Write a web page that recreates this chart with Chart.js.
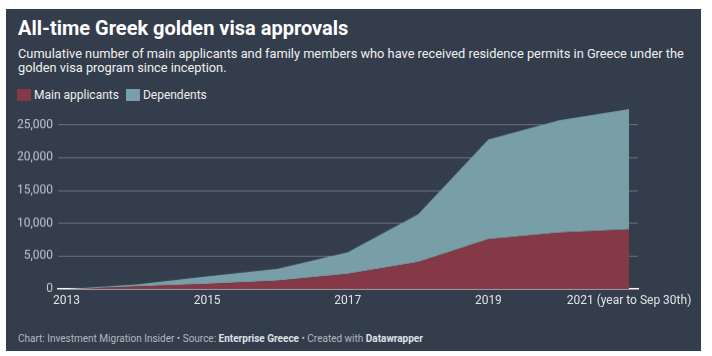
<!DOCTYPE html>
<html>
<head>
<meta charset="utf-8">
<script src="https://cdn.jsdelivr.net/npm/chart.js@4"></script>
<style>
  html, body { margin:0; padding:0; background:#ffffff; width:712px; height:356px; overflow:hidden; }
  #panel { position:absolute; left:6px; top:9px; width:695px; height:342px; background:#343d4c; font-family:Roboto, "Noto Sans", sans-serif; }
  #title { position:absolute; left:12px; top:7px; color:#ffffff; font-size:20px; font-weight:700; line-height:24px; white-space:nowrap; }
  #sub { position:absolute; left:12px; top:38px; width:680px; color:#f0f0f0; font-size:12.8px; line-height:13.5px; }
  #legend { position:absolute; left:11px; top:79px; color:#eeeeee; font-size:12px; line-height:14px; white-space:nowrap; }
  .sw { display:inline-block; width:14px; height:12px; vertical-align:-2px; margin-right:3px; }
  .li { display:inline-block; margin-right:4px; }
  #foot { position:absolute; left:12px; top:324px; color:#b3b8c0; font-size:10px; line-height:12px; white-space:nowrap; }
  #foot b { color:#dfe2e6; font-weight:700; }
  #wrap { position:absolute; left:0px; top:84.2px; width:695px; height:221.8px; }
</style>
</head>
<body>
<div id="panel">
  <div id="title">All-time Greek golden visa approvals</div>
  <div id="sub">Cumulative number of main applicants and family members who have received residence permits in Greece under the golden visa program since inception.</div>
  <div id="legend"><span class="li"><span class="sw" style="background:#853947"></span>Main applicants</span> <span class="li"><span class="sw" style="background:#789fa7"></span>Dependents</span></div>
  <div id="wrap"><canvas id="c"></canvas></div>
  <div id="foot">Chart: Investment Migration Insider • Source: <b>Enterprise Greece</b> • Created with <b>Datawrapper</b></div>
</div>
<script>
// ---- data ----
const years = [2013, 2014, 2015, 2016, 2017, 2018, 2019, 2020, 2021];
const mainApplicants = [0, 400, 780, 1270, 2300, 4100, 7600, 8600, 9100];
const dependents = [0, 300, 1150, 1790, 3300, 7300, 15200, 17100, 18300];
const xTickValues = [2013, 2015, 2017, 2019, 2021];
const xTickLabels = ['2013', '2015', '2017', '2019', '2021 (year to Sep 30th)'];
const yTickValues = [0, 5000, 10000, 15000, 20000, 25000];

const RED = '#853947';
const BLUE = '#789fa7';

const ctx = document.getElementById('c');
new Chart(ctx, {
  type: 'line',
  data: {
    datasets: [
      {
        label: 'Main applicants',
        data: years.map((y, i) => ({ x: y, y: mainApplicants[i] })),
        backgroundColor: RED,
        borderWidth: 0,
        pointRadius: 0,
        fill: 'origin',
        tension: 0
      },
      {
        label: 'Dependents',
        data: years.map((y, i) => ({ x: y, y: dependents[i] })),
        backgroundColor: BLUE,
        borderWidth: 0,
        pointRadius: 0,
        fill: '-1',
        tension: 0
      }
    ]
  },
  options: {
    responsive: true,
    maintainAspectRatio: false,
    animation: false,
    events: [],
    layout: { padding: { top: 0, right: 63, left: 0, bottom: 0 } },
    plugins: { legend: { display: false }, tooltip: { enabled: false } },
    scales: {
      x: {
        type: 'linear',
        min: 2012.879,
        max: 2021.128,
        z: 1,
        grid: { display: false, drawTicks: false },
        border: { display: true, color: '#ffffff', width: 1.5 },
        afterBuildTicks: (s) => { s.ticks = xTickValues.map(v => ({ value: v })); },
        afterFit: (s) => { s.height = 26.7; },
        ticks: {
          padding: 5,
          maxRotation: 0,
          autoSkip: false,
          color: '#e2e4e8',
          font: { family: 'Roboto', size: 12 },
          callback: (v) => { const i = xTickValues.indexOf(v); return i >= 0 ? xTickLabels[i] : ''; }
        }
      },
      y: {
        stacked: true,
        min: 0,
        max: 28000,
        z: 1,
        afterBuildTicks: (s) => { s.ticks = yTickValues.map(v => ({ value: v })); },
        afterFit: (s) => { s.width = 52; },
        border: { display: false },
        grid: {
          drawTicks: false,
          color: (c) => c.tick && c.tick.value === 0 ? 'rgba(0,0,0,0)' : 'rgba(255,255,255,0.28)',
          lineWidth: 1
        },
        ticks: {
          padding: 5,
          color: '#c3c7cd',
          font: { family: 'Roboto', size: 12 },
          callback: (v) => v.toLocaleString('en-US')
        }
      }
    }
  }
});
</script>
</body>
</html>
